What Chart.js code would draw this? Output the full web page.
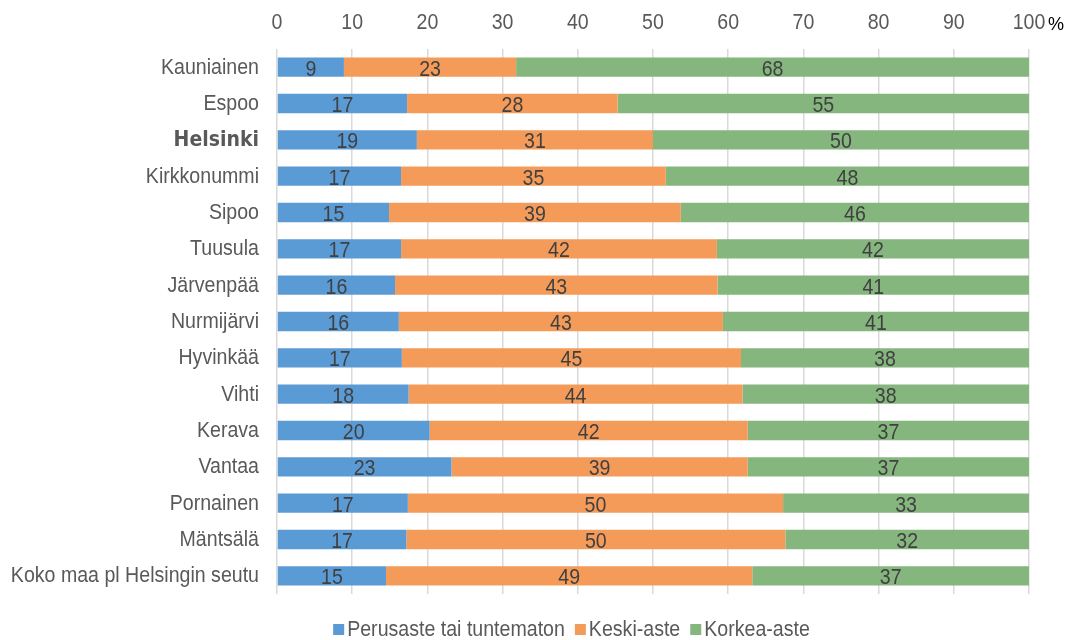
<!DOCTYPE html>
<html>
<head>
<meta charset="utf-8">
<script src="https://cdn.jsdelivr.net/npm/chart.js@4"></script>
<style>
  html, body { margin: 0; padding: 0; background: #fff; }
  #wrap { width: 1067px; height: 640px; }
</style>
</head>
<body>
<div id="wrap"><canvas id="myChart" width="1067" height="640"></canvas></div>
<script>
const categories = [
  'Kauniainen', 'Espoo', 'Helsinki', 'Kirkkonummi', 'Sipoo', 'Tuusula',
  'Järvenpää', 'Nurmijärvi', 'Hyvinkää', 'Vihti', 'Kerava', 'Vantaa',
  'Pornainen', 'Mäntsälä', 'Koko maa pl Helsingin seutu',
];
const perusaste = [8.9, 17.3, 18.6, 16.5, 14.9, 16.5, 15.7, 16.2, 16.6, 17.5, 20.3, 23.2, 17.4, 17.2, 14.5];
const keskiaste = [22.9, 28.0, 31.4, 35.2, 38.8, 42.0, 42.9, 43.1, 45.1, 44.4, 42.3, 39.4, 49.9, 50.4, 48.7];
const korkeaaste = [68.2, 54.7, 50.0, 48.3, 46.3, 41.5, 41.4, 40.7, 38.3, 38.1, 37.4, 37.4, 32.7, 32.4, 36.8];
const xTicks = [0, 10, 20, 30, 40, 50, 60, 70, 80, 90, 100];
const seriesNames = ['Perusaste tai tuntematon', 'Keski-aste', 'Korkea-aste'];
const colors = ['#5B9BD5', '#F59B59', '#84B67E'];

const FONT = '"Liberation Sans", Arial, sans-serif';
const SX = 0.89; // the original text is a bit narrow

function txt(c, s, x, y, align, font, color, sx) {
  c.save();
  c.font = font;
  c.fillStyle = color;
  c.textAlign = align;
  c.textBaseline = 'alphabetic';
  c.translate(x, y);
  c.scale(sx || SX, 1);
  c.fillText(s, 0, 0);
  c.restore();
}

const textPlugin = {
  id: 'texts',
  afterDatasetsDraw(chart) {
    const c = chart.ctx;
    chart.data.datasets.forEach((ds, i) => {
      chart.getDatasetMeta(i).data.forEach((bar, j) => {
        const x = (bar.x + bar.base) / 2;
        txt(c, String(Math.round(ds.data[j])), x, bar.y + 8.5, 'center', '22px ' + FONT, '#404040');
      });
    });
  },
  afterDraw(chart) {
    const c = chart.ctx;
    const xs = chart.scales.x;
    const ys = chart.scales.y;

    // top axis labels
    xTicks.forEach(v => {
      txt(c, String(v), xs.getPixelForValue(v), 28.5, 'center', '22px ' + FONT, '#595959');
    });
    txt(c, '%', xs.getPixelForValue(100) + 19, 30, 'left', '19px ' + FONT, '#000', 0.95);

    // category labels
    categories.forEach((name, i) => {
      const y = ys.getPixelForValue(i);
      if (name === 'Helsinki') {
        txt(c, name, 259, y + 6.5, 'right', 'bold 21.5px "DejaVu Sans", sans-serif', '#595959', 0.88);
      } else {
        txt(c, name, 259, y + 6.5, 'right', '22px ' + FONT, '#595959');
      }
    });

    // legend
    const font = '22px ' + FONT;
    c.save();
    c.font = font;
    const widths = seriesNames.map(n => c.measureText(n).width * SX);
    c.restore();
    const box = 11, gap = 3, space = 10;
    let total = space * (seriesNames.length - 1);
    widths.forEach(w => total += box + gap + w);
    let x = 571.5 - total / 2;
    seriesNames.forEach((n, i) => {
      c.fillStyle = colors[i];
      c.fillRect(x, 624, box, box);
      txt(c, n, x + box + gap, 636, 'left', font, '#595959');
      x += box + gap + widths[i] + space;
    });
  },
};

new Chart(document.getElementById('myChart'), {
  type: 'bar',
  data: {
    labels: categories,
    datasets: [
      { label: seriesNames[0], data: perusaste, backgroundColor: colors[0] },
      { label: seriesNames[1], data: keskiaste, backgroundColor: colors[1] },
      { label: seriesNames[2], data: korkeaaste, backgroundColor: colors[2] },
    ],
  },
  options: {
    indexAxis: 'y',
    responsive: false,
    animation: false,
    barPercentage: 0.53,
    categoryPercentage: 1,
    layout: { padding: { left: 0, right: 38, top: 0, bottom: 46 } },
    plugins: {
      legend: { display: false },
      tooltip: { enabled: false },
    },
    scales: {
      x: {
        position: 'top',
        stacked: true,
        min: 0,
        max: 100,
        border: { display: false },
        grid: { color: '#D9D9D9', lineWidth: 1.5, drawTicks: false },
        ticks: { stepSize: 10, display: false },
        afterFit(scale) { scale.height = 49; },
      },
      y: {
        stacked: true,
        border: { display: false },
        grid: { display: false, drawTicks: false },
        ticks: { display: false },
        afterFit(scale) { scale.width = 277; },
      },
    },
  },
  plugins: [textPlugin],
});
</script>
</body>
</html>
